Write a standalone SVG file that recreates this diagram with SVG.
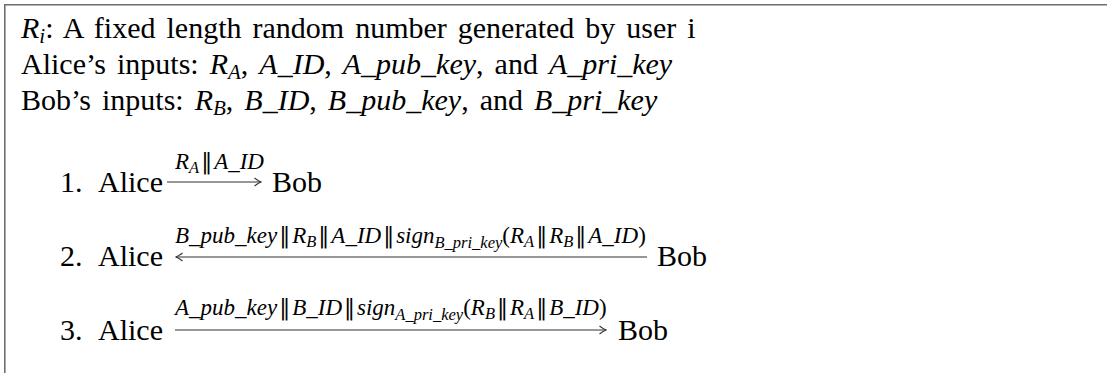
<svg xmlns="http://www.w3.org/2000/svg" width="1107" height="373" viewBox="0 0 1107 373">
  <style>
    text { font-family: "Liberation Serif", "DejaVu Serif", serif; fill: #000; }
    .main { font-size: 30px; word-spacing: 3.5px; }
    .lab { font-size: 23px; }
    .it { font-style: italic; }
    .sub { font-size: 21px; font-style: italic; }
    .lsub { font-size: 16.5px; font-style: italic; }
    .rm { font-style: normal; }
    .bar { font-family: "DejaVu Serif", serif; font-style: normal; font-size: 22px; }
    .frame { fill: none; stroke: #6e6e6e; stroke-width: 1.6; }
    .arrow { fill: none; stroke: #333; stroke-width: 1.1; }
  </style>
  <defs>
    <marker id="tip" markerUnits="userSpaceOnUse" markerWidth="12" markerHeight="12" viewBox="-8 -6 10 12" refX="0" refY="0" orient="auto">
      <path d="M -6.5,-4 Q -2,-0.6 0.5,0 Q -2,0.6 -6.5,4" fill="none" stroke="#333" stroke-width="1.1"/>
    </marker>
  </defs>

  <rect width="1107" height="373" fill="#fff"/>

  <!-- open frame: top and left edges -->
  <path class="frame" d="M 4.8,380 V 4.8 H 1107"/>

  <!-- header definitions -->
  <g id="definitions">
    <text class="main" x="21" y="38"><tspan class="it">R</tspan><tspan class="sub" dy="5">i</tspan><tspan dy="-5">: A fixed length random number generated by user i</tspan></text>
    <text class="main" x="21" y="74">Alice’s inputs: <tspan class="it">R</tspan><tspan class="sub" dy="5">A</tspan><tspan dy="-5">, </tspan><tspan class="it">A_ID</tspan>, <tspan class="it">A_pub_key</tspan>, and <tspan class="it">A_pri_key</tspan></text>
    <text class="main" x="21" y="110">Bob’s inputs: <tspan class="it">R</tspan><tspan class="sub" dy="5">B</tspan><tspan dy="-5">, </tspan><tspan class="it">B_ID</tspan>, <tspan class="it">B_pub_key</tspan>, and <tspan class="it">B_pri_key</tspan></text>
  </g>

  <!-- step 1 -->
  <g id="step1">
    <text class="main" x="60" y="192">1.</text>
    <text class="main" x="98" y="192">Alice</text>
    <text class="main" x="272" y="192">Bob</text>
    <text class="lab it" x="175" y="169">R<tspan class="lsub" dy="4">A</tspan><tspan class="bar" dy="-4" dx="2">‖</tspan><tspan dx="2">A_ID</tspan></text>
  </g>

  <!-- step 2 -->
  <g id="step2">
    <text class="main" x="60" y="266">2.</text>
    <text class="main" x="98" y="266">Alice</text>
    <text class="main" x="657" y="266">Bob</text>
    <text class="lab it" x="175" y="243">B_pub_key<tspan class="bar" dx="2">‖</tspan><tspan dx="2">R</tspan><tspan class="lsub" dy="4">B</tspan><tspan class="bar" dy="-4" dx="2">‖</tspan><tspan dx="2">A_ID</tspan><tspan class="bar" dx="2">‖</tspan><tspan dx="2">sign</tspan><tspan class="lsub" dy="5">B_pri_key</tspan><tspan class="rm" dy="-5">(</tspan>R<tspan class="lsub" dy="4">A</tspan><tspan class="bar" dy="-4" dx="2">‖</tspan><tspan dx="2">R</tspan><tspan class="lsub" dy="4">B</tspan><tspan class="bar" dy="-4" dx="2">‖</tspan><tspan dx="2">A_ID</tspan><tspan class="rm">)</tspan></text>
  </g>

  <!-- step 3 -->
  <g id="step3">
    <text class="main" x="60" y="340">3.</text>
    <text class="main" x="98" y="340">Alice</text>
    <text class="main" x="618" y="340">Bob</text>
    <text class="lab it" x="175" y="315">A_pub_key<tspan class="bar" dx="2">‖</tspan><tspan dx="2">B_ID</tspan><tspan class="bar" dx="2">‖</tspan><tspan dx="2">sign</tspan><tspan class="lsub" dy="5">A_pri_key</tspan><tspan class="rm" dy="-5">(</tspan>R<tspan class="lsub" dy="4">B</tspan><tspan class="bar" dy="-4" dx="2">‖</tspan><tspan dx="2">R</tspan><tspan class="lsub" dy="4">A</tspan><tspan class="bar" dy="-4" dx="2">‖</tspan><tspan dx="2">B_ID</tspan><tspan class="rm">)</tspan></text>
  </g>

  <!-- message arrows -->
  <g id="connectors">
    <line class="arrow" x1="167" y1="182" x2="261" y2="182" marker-end="url(#tip)"/>
    <line class="arrow" x1="647" y1="257" x2="176" y2="257" marker-end="url(#tip)"/>
    <line class="arrow" x1="175" y1="330" x2="606" y2="330" marker-end="url(#tip)"/>
  </g>
</svg>
